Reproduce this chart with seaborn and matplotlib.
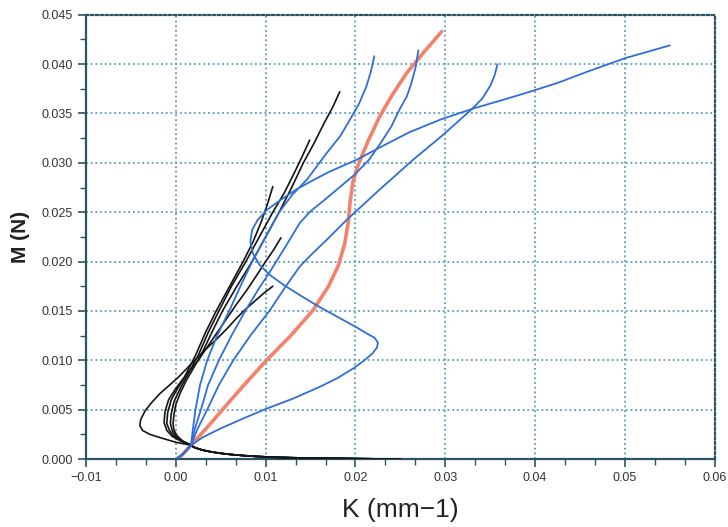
import numpy as np
import pandas as pd
import seaborn as sns
import matplotlib
matplotlib.use("Agg")
import matplotlib.pyplot as plt
from matplotlib.ticker import AutoMinorLocator

# ---- data ----
tail_K = [0.025, 0.022, 0.019, 0.016, 0.013, 0.011, 0.009, 0.0075, 0.006, 0.0048, 0.0038, 0.003, 0.0024, 0.002, 0.0017]
tail_M = [0.0, 0.00002, 0.00005, 0.00008, 0.00013, 0.00018, 0.00026, 0.00035, 0.00047, 0.0006, 0.00075, 0.0009,
          0.00107, 0.0012, 0.0014]

black1_K = [0.0008, 0.0002, -0.0002, -0.0003, -0.0002, 0.0000, 0.0005, 0.0012, 0.0028, 0.0040, 0.0052, 0.0068,
            0.0085, 0.0100, 0.0115, 0.0129, 0.0142, 0.0154, 0.0165, 0.0175, 0.01825]
black1_M = [0.0018, 0.0023, 0.0029, 0.0036, 0.0045, 0.0055, 0.0067, 0.0080, 0.0105, 0.0128, 0.0150, 0.0175,
            0.0200, 0.0225, 0.0250, 0.0275, 0.0300, 0.0320, 0.0340, 0.0357, 0.0372]
black2_K = [0.0008, 0.0000, -0.0004, -0.0006, -0.0005, -0.0002, 0.0003, 0.0010, 0.0025, 0.0036, 0.0048, 0.0062,
            0.0078, 0.0093, 0.0108, 0.0121, 0.0132, 0.0141, 0.0149]
black2_M = [0.0018, 0.0023, 0.0029, 0.0036, 0.0046, 0.0058, 0.0068, 0.0080, 0.0105, 0.0128, 0.0150, 0.0175,
            0.0200, 0.0225, 0.0250, 0.0270, 0.0290, 0.0307, 0.0323]
black3_K = [0.0007, -0.0002, -0.0007, -0.0010, -0.0009, -0.0005, 0.0001, 0.0008, 0.0022, 0.0033, 0.0045, 0.0060,
            0.0075, 0.0086, 0.0095, 0.0102, 0.0108]
black3_M = [0.0018, 0.0023, 0.0029, 0.0036, 0.0047, 0.0060, 0.0070, 0.0080, 0.0105, 0.0128, 0.0150, 0.0175,
            0.0200, 0.0220, 0.0240, 0.0258, 0.0276]
black4_K = [0.0006, -0.0004, -0.0010, -0.0013, -0.0012, -0.0008, -0.0001, 0.0007, 0.0025, 0.0040, 0.0055, 0.0067,
            0.0079, 0.0090, 0.0100, 0.0109, 0.0117]
black4_M = [0.0018, 0.0023, 0.0029, 0.0037, 0.0048, 0.0060, 0.0070, 0.0080, 0.0100, 0.0120, 0.0140, 0.0156,
            0.0171, 0.0186, 0.0200, 0.0212, 0.0224]
black5_K = [0.0000, -0.0015, -0.0029, -0.0037, -0.0040, -0.0039, -0.0034, -0.0027, -0.0018, -0.0008, 0.0003,
            0.0019, 0.0032, 0.0045, 0.0057, 0.0068, 0.0078, 0.0088, 0.0098, 0.0108]
black5_M = [0.0017, 0.0021, 0.0025, 0.0029, 0.0034, 0.0040, 0.0049, 0.0057, 0.0066, 0.0074, 0.0083,
            0.0098, 0.0110, 0.0121, 0.0132, 0.0143, 0.0152, 0.0160, 0.0168, 0.0175]

blueA_K = [0.0000, 0.0008, 0.0017, 0.0019, 0.0022, 0.0027, 0.0035, 0.0046, 0.0060, 0.0072, 0.0085, 0.0100, 0.0115,
           0.0130, 0.0146, 0.0168, 0.0183, 0.0194, 0.0204, 0.0212, 0.0217, 0.0221]
blueA_M = [0.0000, 0.0005, 0.0014, 0.0030, 0.0050, 0.0075, 0.0100, 0.0125, 0.0151, 0.0175, 0.0200, 0.0225, 0.0250,
           0.0268, 0.0283, 0.0310, 0.0327, 0.0344, 0.0360, 0.0377, 0.0392, 0.0408]
blueB_K = [0.0000, 0.0008, 0.0017, 0.0021, 0.0028, 0.0036, 0.0048, 0.0062, 0.0078, 0.0092, 0.0105, 0.0122, 0.0138,
           0.0150, 0.0165, 0.0182, 0.0199, 0.0215, 0.0228, 0.0240, 0.0249, 0.0257, 0.0262, 0.0267, 0.0270]
blueB_M = [0.0000, 0.0005, 0.0014, 0.0030, 0.0050, 0.0075, 0.0100, 0.0125, 0.0151, 0.0172, 0.0190, 0.0215, 0.0239,
           0.0251, 0.0262, 0.0275, 0.0288, 0.0303, 0.0320, 0.0337, 0.0354, 0.0367, 0.0380, 0.0397, 0.0414]
blueC_K = [0.0000, 0.0008, 0.0017, 0.0024, 0.0035, 0.0048, 0.0064, 0.0083, 0.0105, 0.0121, 0.0138, 0.0153, 0.0168,
           0.0190, 0.0227, 0.0264, 0.0297, 0.0329, 0.0341, 0.0350, 0.0355, 0.0358]
blueC_M = [0.0000, 0.0005, 0.0014, 0.0030, 0.0050, 0.0075, 0.0100, 0.0125, 0.0151, 0.0173, 0.0195, 0.0209, 0.0222,
           0.0242, 0.0273, 0.0303, 0.0328, 0.0354, 0.0365, 0.0378, 0.0389, 0.0400]
blueD_K = [0.0000, 0.0008, 0.0017, 0.0030, 0.0050, 0.0075, 0.0101, 0.0130, 0.0160, 0.0180, 0.0198, 0.0210, 0.0219,
           0.0224, 0.0225, 0.0221, 0.0213, 0.0200, 0.0186, 0.0160, 0.0138, 0.0119, 0.0104, 0.0093, 0.0086, 0.0083,
           0.0085, 0.0091, 0.0101, 0.0116, 0.0134, 0.0152, 0.0171, 0.0201, 0.0228, 0.0260, 0.0295, 0.0331, 0.0365,
           0.0394, 0.0425, 0.0460, 0.0500, 0.0550]
blueD_M = [0.0000, 0.0005, 0.0014, 0.0022, 0.0031, 0.0041, 0.0051, 0.0061, 0.0073, 0.0082, 0.0092, 0.0100, 0.0107,
           0.0113, 0.0118, 0.0123, 0.0127, 0.0134, 0.0141, 0.0154, 0.0166, 0.0177, 0.0187, 0.0197, 0.0208, 0.0220,
           0.0232, 0.0242, 0.0252, 0.0262, 0.0273, 0.0282, 0.0291, 0.0303, 0.0316, 0.0331, 0.0344, 0.0355, 0.0364,
           0.0372, 0.0381, 0.0393, 0.0406, 0.0419]

red_K = [0.0003, 0.0010, 0.0017, 0.0035, 0.0052, 0.0076, 0.0101, 0.0128, 0.0153, 0.0170, 0.0181, 0.0188, 0.0192,
         0.0194, 0.0197, 0.0203, 0.0214, 0.0227, 0.0241, 0.0257, 0.0276, 0.0296]
red_M = [0.0000, 0.0007, 0.0014, 0.0032, 0.0050, 0.0075, 0.0100, 0.0125, 0.0151, 0.0175, 0.0196, 0.0218, 0.0240,
         0.0260, 0.0280, 0.0298, 0.0322, 0.0347, 0.0369, 0.0391, 0.0412, 0.0433]

x_ticks = [-0.01, 0.00, 0.01, 0.02, 0.03, 0.04, 0.05, 0.06]
x_labels = ["\u22120.01", "0.00", "0.01", "0.02", "0.03", "0.04", "0.05", "0.06"]
y_ticks = [0.000, 0.005, 0.010, 0.015, 0.020, 0.025, 0.030, 0.035, 0.040, 0.045]

# ---- build tidy table ----
frames = []
blacks = [(black1_K, black1_M), (black2_K, black2_M), (black3_K, black3_M), (black4_K, black4_M), (black5_K, black5_M)]
for i, (k, m) in enumerate(blacks):
    frames.append(pd.DataFrame({"K": tail_K + k, "M": tail_M + m, "curve": f"black{i}", "kind": "black"}))
blues = [(blueA_K, blueA_M), (blueB_K, blueB_M), (blueC_K, blueC_M), (blueD_K, blueD_M)]
for i, (k, m) in enumerate(blues):
    frames.append(pd.DataFrame({"K": k, "M": m, "curve": f"blue{i}", "kind": "blue"}))
frames.append(pd.DataFrame({"K": red_K, "M": red_M, "curve": "red", "kind": "red"}))
df = pd.concat(frames, ignore_index=True)

sns.set_theme(style="white")
plt.rcParams["font.family"] = ["Liberation Sans", "DejaVu Sans"]

fig = plt.figure(figsize=(7.28, 5.27), dpi=100)
ax = fig.add_axes([0.118, 0.129, 0.864, 0.843])

grid_col = "#5a9cc0"
ax.grid(True, which="major", color=grid_col, linestyle=(0, (1, 1.6)), linewidth=1.3)

styles = {"blue": ("#2f6fd6", 1.3), "black": ("#151515", 1.2), "red": ("#f3826c", 2.6)}
for kind in ["black", "blue", "red"]:
    col, lw = styles[kind]
    sub = df[df["kind"] == kind]
    for name, g in sub.groupby("curve", sort=False):
        sns.lineplot(data=g, x="K", y="M", sort=False, estimator=None, color=col, linewidth=lw,
                     ax=ax, legend=False, zorder=3 if kind != "red" else 2)

ax.set_xlim(-0.01, 0.06)
ax.set_ylim(0.0, 0.045)
ax.set_xticks(x_ticks)
ax.set_yticks(y_ticks)
ax.set_xticklabels(x_labels)
ax.set_yticklabels([f"{v:.3f}" for v in y_ticks])
ax.xaxis.set_minor_locator(AutoMinorLocator(3))
ax.yaxis.set_minor_locator(AutoMinorLocator(2))

spine_col = "#2a5466"
for s in ["left", "bottom"]:
    ax.spines[s].set_color(spine_col)
    ax.spines[s].set_linewidth(1.6)
for s in ["top", "right"]:
    ax.spines[s].set_color(spine_col)
    ax.spines[s].set_linewidth(1.6)
    ax.spines[s].set_linestyle((0, (1, 1.2)))

ax.tick_params(axis="both", which="major", direction="out", length=6, width=1.2, color=spine_col,
               labelsize=9, labelcolor="#333333", bottom=True, left=True)
ax.tick_params(axis="both", which="minor", direction="out", length=4, width=1.0, color=spine_col,
               bottom=True, left=True)

ax.set_xlabel("K (mm\u22121)", fontsize=19, color="#222222", labelpad=10)
ax.set_ylabel("M (N)", fontsize=15, fontweight="bold", color="#222222", labelpad=8)

fig.savefig("out.png", dpi=100, facecolor="white")
